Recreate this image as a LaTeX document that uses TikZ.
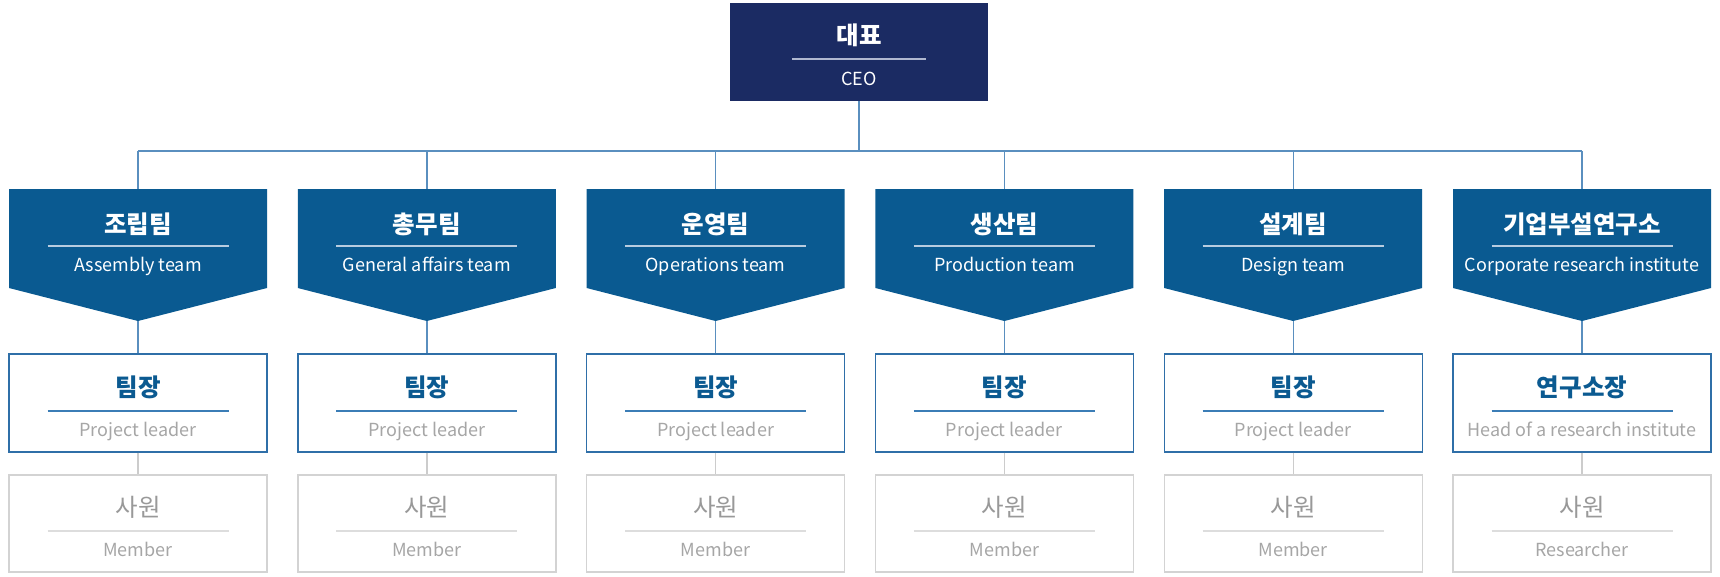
\documentclass[tikz,border=0pt]{standalone}
\usepackage{fontspec}
\setmainfont{Noto Sans CJK KR}
\definecolor{ceoC}{HTML}{1B2B63}
\definecolor{teamC}{HTML}{0A5A91}
\definecolor{linkC}{HTML}{5A8FBF}
\definecolor{leadBorder}{HTML}{2F6FA8}
\definecolor{leadRule}{HTML}{3B7DB6}
\definecolor{leadK}{HTML}{0B5A91}
\definecolor{greyE}{HTML}{A6A6A6}
\definecolor{memBorder}{HTML}{D3D3D3}
\definecolor{memK}{HTML}{999999}
\definecolor{memRule}{HTML}{DDDDDD}
\definecolor{glinkC}{HTML}{CCCCCC}
\definecolor{teamRule}{HTML}{B8CCE0}
\definecolor{ceoRule}{HTML}{B0B8D0}
\tikzset{
  kor/.style={font=\fontsize{24.5}{25}\selectfont\bfseries, inner sep=0pt},
  eng/.style={font=\fontsize{18}{19}\selectfont, inner sep=0pt, anchor=base},
  ceobox/.style={fill=ceoC, minimum width=258pt, minimum height=98pt, inner sep=0pt},
  leadbox/.style={draw=leadBorder, line width=1.4pt, fill=white, minimum width=258pt, minimum height=98pt, inner sep=0pt},
  membox/.style={draw=memBorder, line width=1.4pt, fill=white, minimum width=258pt, minimum height=97pt, inner sep=0pt},
  link/.style={draw=linkC, line width=1.4pt},
  glink/.style={draw=glinkC, line width=1.4pt},
  rule/.style={line width=1.4pt}
}
\begin{document}
\begin{tikzpicture}[x=1pt,y=-1pt]
\useasboundingbox (0,0) rectangle (1720,576);
% CEO
\node[ceobox] (ceo) at (859,52) {};
\node[kor,text=white] (ceoK) at (859,35) {대표};
\draw[rule,draw=ceoRule] (792,59) -- (926,59);
\node[eng,text=white] (ceoE) at (859,85) {CEO};
\coordinate (bus) at (859,151);
\draw[link] (ceo.south) -- (bus);
\foreach \i/\tk/\te/\lk/\le/\me in {
  1/조립팀/Assembly team/팀장/Project leader/Member,
  2/총무팀/General affairs team/팀장/Project leader/Member,
  3/운영팀/Operations team/팀장/Project leader/Member,
  4/생산팀/Production team/팀장/Project leader/Member,
  5/설계팀/Design team/팀장/Project leader/Member,
  6/기업부설연구소/Corporate research institute/연구소장/Head of a research institute/Researcher}{
  \pgfmathsetmacro\cx{138+288.8*(\i-1)}
  \begin{scope}[xshift=\cx pt]
    \coordinate (bus\i) at (0,151);
    \coordinate (tTop\i) at (0,189);
    \coordinate (tTip\i) at (0,321);
    % team
    \fill[teamC] (-129,189) -- (129,189) -- (129,288) -- (0,321) -- (-129,288) -- cycle;
    \node[kor,text=white] (teamK\i) at (0,224) {\tk};
    \draw[rule,draw=teamRule] (-90.5,246) -- (90.5,246);
    \node[eng,text=white] (teamE\i) at (0,271.5) {\te};
    % leader
    \node[leadbox] (lead\i) at (0,403) {};
    \node[kor,text=leadK] (leadK\i) at (0,387) {\lk};
    \draw[rule,draw=leadRule] (-90.5,411) -- (90.5,411);
    \node[eng,text=greyE] (leadE\i) at (0,436.5) {\le};
    % member
    \node[membox] (mem\i) at (0,523.5) {};
    \node[kor,text=memK,font=\fontsize{24.5}{25}\selectfont] (memK\i) at (0,507) {사원};
    \draw[rule,draw=memRule] (-90.5,531) -- (90.5,531);
    \node[eng,text=greyE] (memE\i) at (0,556.5) {\me};
  \end{scope}
  \draw[link] (bus\i) -- (tTop\i);
  \draw[link] (tTip\i) -- (lead\i.north);
  \draw[glink] (lead\i.south) -- (mem\i.north);
}
\draw[link] (bus1) -- (bus6);
\end{tikzpicture}
\end{document}
